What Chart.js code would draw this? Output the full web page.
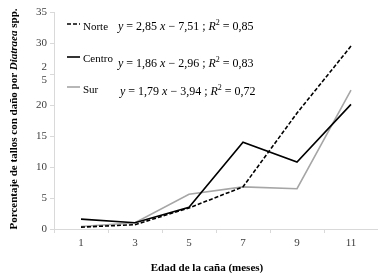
<!DOCTYPE html>
<html>
<head>
<meta charset="utf-8">
<script src="https://cdn.jsdelivr.net/npm/chart.js@4.4.1/dist/chart.umd.min.js"></script>
<style>
html,body{margin:0;padding:0;background:#fff;}
#wrap{width:378px;height:273px;position:relative;}
</style>
</head>
<body>
<div id="wrap"><canvas id="c" width="378" height="273"></canvas></div>
<script>
const categories = ['1', '3', '5', '7', '9', '11'];
const norte = [0.3, 0.7, 3.4, 6.8, 18.7, 29.5];
const centro = [1.6, 1.0, 3.5, 14.0, 10.8, 20.1];
const sur = [0.4, 1.0, 5.6, 6.8, 6.5, 22.4];
const seriesNames = ['Norte', 'Centro', 'Sur'];
const equations = [
  ['2,85', '7,51', '0,85'],
  ['1,86', '2,96', '0,83'],
  ['1,79', '3,94', '0,72']
];
const yTicks = [0, 5, 10, 15, 20, 25, 30, 35];
const xTitle = 'Edad de la caña (meses)';
const yTitleParts = [['Porcentaje de tallos con daño por ', false], ['Diatraea', true], [' spp.', false]];

const SERIF = '"Liberation Serif", "Times New Roman", serif';

const overlay = {
  id: 'overlay',
  afterDraw(chart) {
    const ctx = chart.ctx;
    ctx.save();
    // Y title
    ctx.fillStyle = '#000';
    ctx.textBaseline = 'middle';
    let total = 0;
    const fonts = yTitleParts.map(p => 'bold ' + (p[1] ? 'italic ' : '') + '11px ' + SERIF);
    yTitleParts.forEach((p, i) => { ctx.font = fonts[i]; total += ctx.measureText(p[0]).width; });
    ctx.translate(14, 119);
    ctx.rotate(-Math.PI / 2);
    let x = -total / 2;
    ctx.textAlign = 'left';
    yTitleParts.forEach((p, i) => { ctx.font = fonts[i]; ctx.fillText(p[0], x, 0); x += ctx.measureText(p[0]).width; });
    ctx.setTransform(1, 0, 0, 1, 0, 0);

    // X title
    ctx.font = 'bold 11px ' + SERIF;
    ctx.textAlign = 'center';
    ctx.fillText(xTitle, 207, 268);

    // Legend
    const rows = [
      {ly: 24, ty: 27, ey: 27, ex: 118},
      {ly: 57, ty: 59, ey: 64, ex: 118},
      {ly: 87, ty: 90, ey: 92, ex: 120}
    ];
    chart.data.datasets.forEach((ds, i) => {
      const r = rows[i];
      ctx.strokeStyle = ds.borderColor;
      ctx.lineWidth = ds.borderWidth;
      ctx.setLineDash(ds.borderDash || []);
      ctx.beginPath();
      ctx.moveTo(67, r.ly);
      ctx.lineTo(80, r.ly);
      ctx.stroke();
      ctx.setLineDash([]);
      ctx.fillStyle = '#000';
      ctx.textAlign = 'left';
      ctx.font = '11px ' + SERIF;
      ctx.fillText(seriesNames[i], 83, r.ty);
      // equation
      const e = equations[i];
      const segs = [
        ['y', 'italic', 0], [' = ' + e[0] + ' ', '', 0], ['x', 'italic', 0],
        [' \u2212 ' + e[1] + ' ; ', '', 0], ['R', 'italic', 0], ['2', 'sup', 0], [' = ' + e[2], '', 0]
      ];
      let ex = r.ex;
      segs.forEach(s => {
        if (s[1] === 'sup') { ctx.font = '8px ' + SERIF; ctx.fillText(s[0], ex, r.ey - 4); }
        else { ctx.font = (s[1] ? 'italic ' : '') + '12px ' + SERIF; ctx.fillText(s[0], ex, r.ey); }
        ex += ctx.measureText(s[0]).width;
      });
    });
    ctx.restore();
  }
};

new Chart(document.getElementById('c'), {
  type: 'line',
  data: {
    labels: categories,
    datasets: [
      {label: seriesNames[0], data: norte, borderColor: '#000000', borderWidth: 1.6, borderDash: [4, 2], pointRadius: 0, fill: false, tension: 0},
      {label: seriesNames[1], data: centro, borderColor: '#000000', borderWidth: 1.6, pointRadius: 0, fill: false, tension: 0},
      {label: seriesNames[2], data: sur, borderColor: '#a6a6a6', borderWidth: 1.6, pointRadius: 0, fill: false, tension: 0}
    ]
  },
  options: {
    responsive: false,
    animation: false,
    devicePixelRatio: 1,
    layout: {padding: {top: 12, right: 0, left: 0, bottom: 0}},
    plugins: {legend: {display: false}, tooltip: {enabled: false}},
    scales: {
      x: {
        offset: true,
        grid: {offset: true, drawOnChartArea: false, drawTicks: true, tickLength: 4, color: '#d9d9d9'},
        border: {color: '#d9d9d9', width: 1},
        ticks: {font: {family: SERIF, size: 11}, color: '#404040', padding: 4, maxRotation: 0},
        afterFit(s) { s.height = 44; }
      },
      y: {
        min: 0, max: 35,
        afterBuildTicks(s) { s.ticks = yTicks.map(v => ({value: v})); },
        grid: {drawOnChartArea: false, drawTicks: true, tickLength: 4, color: '#d9d9d9'},
        border: {color: '#d9d9d9', width: 1},
        ticks: {
          font: {family: SERIF, size: 11}, color: '#404040', padding: 3,
          callback(v) { return v === 25 ? ['2', '5'] : String(v); }
        },
        afterFit(s) { s.width = 54; }
      }
    }
  },
  plugins: [overlay]
});
</script>
</body>
</html>
